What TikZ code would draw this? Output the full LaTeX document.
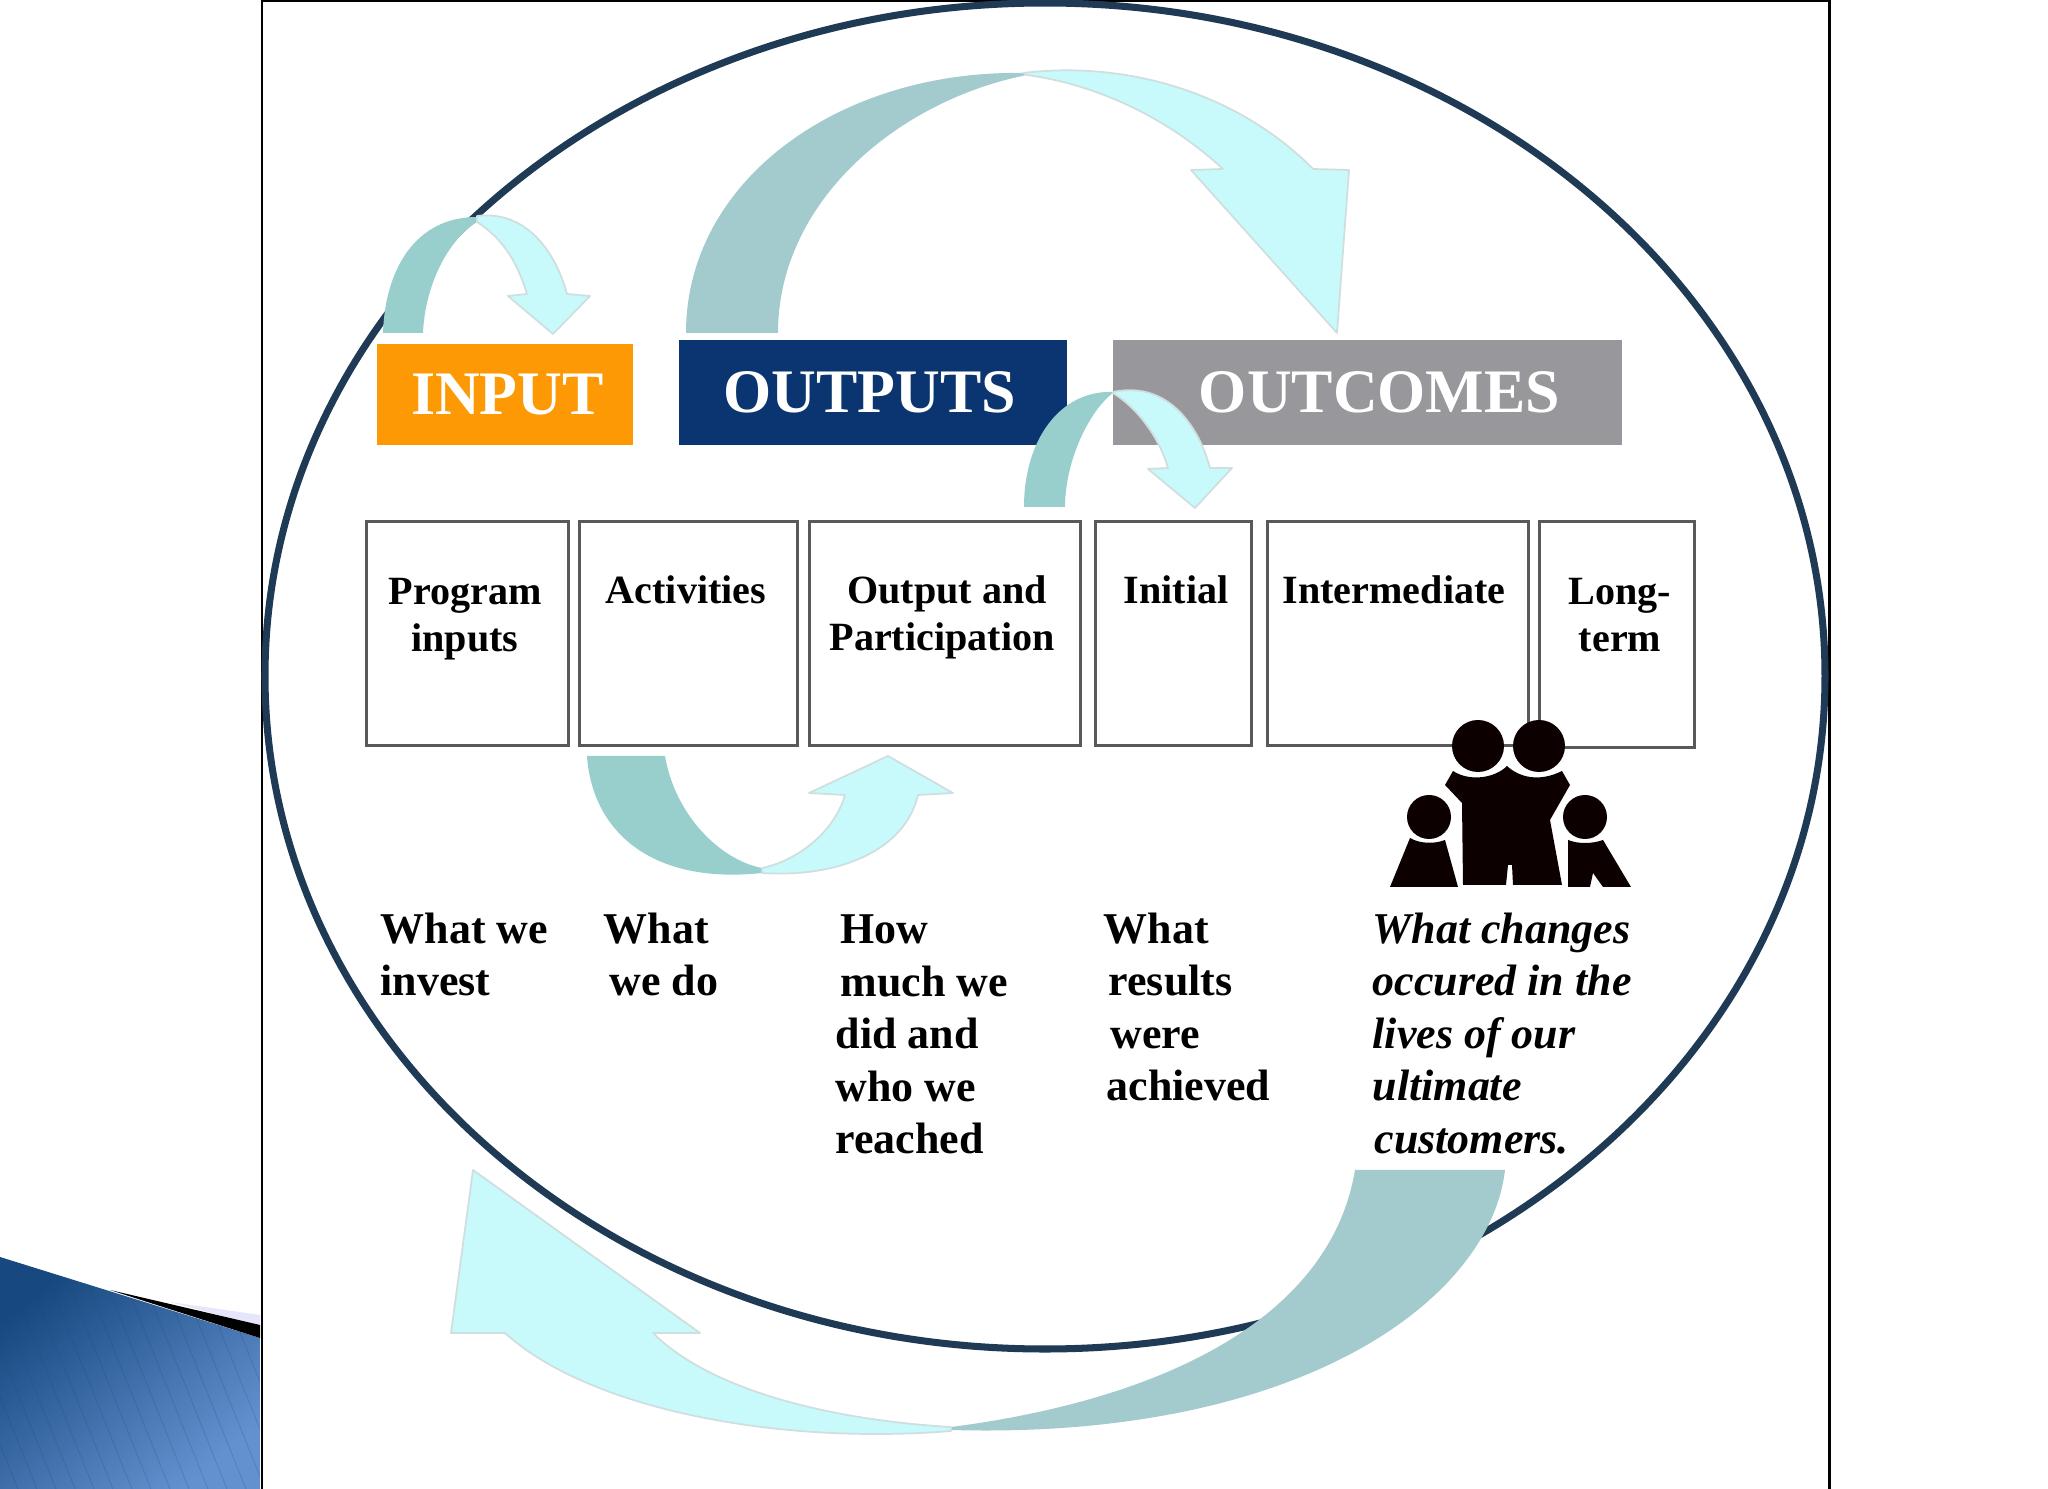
\documentclass[tikz,border=0pt]{standalone}
\usepackage{fontspec}
\setmainfont{Liberation Serif}
\definecolor{ringc}{HTML}{1F3A55}
\definecolor{darkteal}{HTML}{A3CBCE}
\definecolor{midteal}{HTML}{98CFCD}
\definecolor{paleteal}{HTML}{C8FAFB}
\definecolor{edgeteal}{HTML}{CFDEDE}
\definecolor{orangebox}{HTML}{FC9905}
\definecolor{navybox}{HTML}{0B3570}
\definecolor{greybox}{HTML}{98989C}
\definecolor{wedgeA}{HTML}{17487F}
\definecolor{wedgeB}{HTML}{6391D0}
\tikzset{
  header/.style={rectangle,inner sep=0pt,text=white,font={\bfseries\fontsize{17.6}{20}\selectfont}},
  colbox/.style={rectangle,draw=black!65,fill=white,line width=0.85pt,inner sep=0pt},
  boxlabel/.style={inner sep=0pt,anchor=north,align=center,font={\bfseries\fontsize{11.4}{13.37}\selectfont}},
  lowlabel/.style={inner sep=0pt,anchor=north west,align=left,font={\bfseries\fontsize{12.5}{14.94}\selectfont}},
  lowital/.style={lowlabel,font={\bfseries\itshape\fontsize{12.5}{14.94}\selectfont}},
  stem/.style={fill=darkteal},
  stemsmall/.style={fill=midteal},
  headpart/.style={fill=paleteal,draw=edgeteal,line width=0.5pt,line join=round},
  person/.style={fill=black!95!red}
}
\begin{document}
\begin{tikzpicture}[x=0.01cm,y=-0.01cm]
\useasboundingbox (0,0) rectangle (2048,1489);
\fill[white] (0,0) rectangle (2048,1489);
% corner wedge
\begin{scope}
  \clip (0,1257) -- (260,1338) -- (260,1489) -- (0,1489) -- cycle;
  \shade[left color=wedgeA,right color=wedgeB,shading angle=40] (0,1257) rectangle (260,1489);
  \foreach \k in {0,...,24} {
    \draw[wedgeA,opacity=.22,line width=.25pt] ({-120+\k*19},1240) -- ({-20+\k*19},1489);
  }
\end{scope}
\fill[black!10!blue!10] (170,1302) -- (260,1315) -- (260,1326) -- cycle;
\fill[black] (110,1290) -- (260,1325) -- (260,1338) -- cycle;
% slide frame
\draw[black,line width=.85pt] (262,1489) -- (262,1) -- (1829,1) -- (1829,1489);
% ring
\draw[ringc,line width=2pt] (1045,676) ellipse [x radius=780,y radius=673];
% headers
\node[header,fill=orangebox,minimum width=2.56cm,minimum height=1.01cm] (input) at (505,394.5) {\hspace*{0.05cm}INPUT};
\node[header,fill=navybox,minimum width=3.88cm,minimum height=1.05cm] (outputs) at (873,392.5) {OUTPUTS\hspace*{0.06cm}};
\node[header,fill=greybox,minimum width=5.09cm,minimum height=1.05cm] (outcomes) at (1367.5,392.5) {\hspace*{0.24cm}OUTCOMES};
% column boxes
\node[colbox,minimum width=2.01cm,minimum height=2.23cm] (b1) at (467.5,633.5) {};
\node[colbox,minimum width=2.17cm,minimum height=2.23cm] (b2) at (688.5,633.5) {};
\node[colbox,minimum width=2.70cm,minimum height=2.23cm] (b3) at (945,633.5) {};
\node[colbox,minimum width=1.56cm,minimum height=2.23cm] (b4) at (1173.5,633.5) {};
\node[colbox,minimum width=2.60cm,minimum height=2.23cm] (b5) at (1398,633.5) {};
\node[colbox,minimum width=1.55cm,minimum height=2.25cm] (b6) at (1617,634.5) {};
% arrow over INPUT
\fill[stemsmall] (383,333) .. controls (385,270) and (415,217) .. (477,217)
  -- (477,222) .. controls (448,240) and (425,285) .. (423,333) -- cycle;
\path[headpart] (477,216) .. controls (525,210) and (555,250) .. (567,294)
  -- (590,296) -- (553,334) -- (508,296) -- (527,294) .. controls (518,265) and (505,240) .. (477,222) -- cycle;
% large arrow over OUTPUTS
\fill[stem] (686,333) .. controls (686,180) and (840,70) .. (1023,73)
  -- (1027,75) .. controls (900,100) and (778,200) .. (778,333) -- cycle;
\path[headpart] (1023,73) .. controls (1130,60) and (1240,95) .. (1313,169)
  -- (1349,170) -- (1337,333) -- (1191,170) -- (1223,169) .. controls (1170,120) and (1100,85) .. (1027,75) -- cycle;
% small arrow between outputs and outcomes
\fill[stemsmall] (1024,507) .. controls (1024,440) and (1060,390) .. (1113,392)
  -- (1113,393) .. controls (1090,410) and (1065,460) .. (1065,507) -- cycle;
\path[headpart] (1113,392) .. controls (1170,380) and (1200,430) .. (1210,468)
  -- (1232,468) -- (1195,508) -- (1148,469) -- (1168,468) .. controls (1160,440) and (1140,410) .. (1113,393) -- cycle;
% arrow under activities
\fill[stemsmall] (587,756) .. controls (592,830) and (650,885) .. (762,873)
  -- (762,868) .. controls (720,860) and (675,815) .. (665,756) -- cycle;
\path[headpart] (762,873) .. controls (840,878) and (905,850) .. (918,795)
  -- (953,793) -- (888,756) -- (809,793) -- (845,795) .. controls (835,830) and (800,860) .. (762,868) -- cycle;
% large bottom arrow
\fill[stem] (1505,1170) .. controls (1490,1300) and (1300,1440) .. (951,1430)
  -- (951,1427) .. controls (1160,1400) and (1330,1320) .. (1355,1170) -- cycle;
\path[headpart] (951,1431) .. controls (780,1445) and (590,1410) .. (505,1333)
  -- (451,1333) -- (473,1170) -- (700,1333) -- (653,1333) .. controls (710,1390) and (830,1420) .. (951,1427) -- cycle;
% family pictogram
\fill[person] (1478,746) circle [radius=26];
\fill[person] (1539,746) circle [radius=26];
\fill[person] (1429,817) circle [radius=22];
\fill[person] (1585,817) circle [radius=22];
\fill[person] (1453,771) -- (1445,785) -- (1462,803) -- (1463,885) -- (1506,885) -- (1508,865) -- (1512,865) -- (1513,885) -- (1562,885) -- (1550,820) -- (1570,785) -- (1562,771)
  .. controls (1540,782) and (1520,778) .. (1507,766) .. controls (1495,778) and (1470,782) .. (1453,771) -- cycle;
\fill[person] (1410,838) -- (1390,887) -- (1458,887) -- (1445,840) .. controls (1435,844) and (1420,844) .. (1410,838) -- cycle;
\fill[person] (1568,840) -- (1568,887) -- (1590,887) -- (1593,873) -- (1603,887) -- (1631,887) -- (1603,840) .. controls (1592,844) and (1578,844) .. (1568,840) -- cycle;
% box labels
\node[boxlabel] (t1) at (465,577.5) {Program\\inputs};
\node[boxlabel] (t2) at (686,575) {Activities};
\node[boxlabel] (t3) at (942,575) {\hspace*{0.1cm}Output and\\Participation};
\node[boxlabel] (t4) at (1176,575) {Initial};
\node[boxlabel] (t5) at (1394,575) {Intermediate};
\node[boxlabel] (t6) at (1620,577.5) {Long-\\term};
% lower labels
\node[lowlabel] (l1) at (380,912) {What we\\invest};
\node[lowlabel] (l2) at (603,912) {What\\\hspace*{0.06cm}we do};
\node[lowlabel] (l3) at (835,914) {\hspace*{0.05cm}How\\\hspace*{0.05cm}much we\\did and\\who we\\reached};
\node[lowlabel] (l4) at (1103,912) {What\\\hspace*{0.05cm}results\\\hspace*{0.07cm}were\\\hspace*{0.03cm}achieved};
\node[lowital] (l5) at (1372,912) {What changes\\occured in the\\lives of our\\ultimate\\\hspace*{0.02cm}customers.};
\end{tikzpicture}
\end{document}
